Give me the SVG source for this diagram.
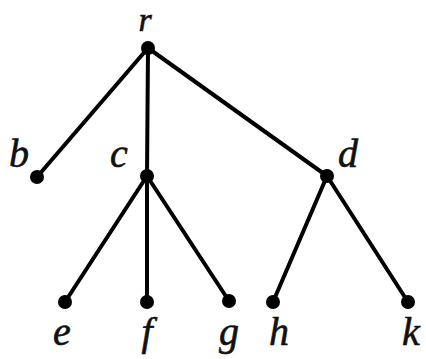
<svg xmlns="http://www.w3.org/2000/svg" width="426" height="359" viewBox="0 0 426 359">
<style>
.e{stroke:#000;stroke-width:4;fill:none;stroke-linecap:round}
.n{fill:#000}
.t{font-family:"Liberation Serif","Times New Roman",serif;font-style:italic;font-size:40px;fill:#111;text-anchor:middle;stroke:#111;stroke-width:0.6}
</style>
<rect width="426" height="359" fill="#fff"/>
<g id="edges">
<line class="e" x1="148" y1="48" x2="37" y2="177"/>
<line class="e" x1="148" y1="48" x2="147" y2="176"/>
<line class="e" x1="148" y1="48" x2="327" y2="176"/>
<line class="e" x1="147" y1="176" x2="65" y2="302"/>
<line class="e" x1="147" y1="176" x2="147" y2="302"/>
<line class="e" x1="147" y1="176" x2="229" y2="301"/>
<line class="e" x1="327" y1="176" x2="273" y2="302"/>
<line class="e" x1="327" y1="176" x2="408" y2="302"/>
</g>
<g id="r"><circle class="n" cx="148" cy="48" r="7"/><text class="t" x="145" y="31" style="font-size:34px">r</text></g>
<g id="b"><circle class="n" cx="37" cy="177" r="7"/><text class="t" x="19" y="167">b</text></g>
<g id="c"><circle class="n" cx="147" cy="176" r="7"/><text class="t" x="119" y="167">c</text></g>
<g id="d"><circle class="n" cx="327" cy="176" r="7"/><text class="t" x="348" y="167">d</text></g>
<g id="e"><circle class="n" cx="65" cy="302" r="7"/><text class="t" x="62" y="345">e</text></g>
<g id="f"><circle class="n" cx="147" cy="302" r="7"/><text class="t" x="147" y="345">f</text></g>
<g id="g"><circle class="n" cx="229" cy="301" r="7"/><text class="t" x="229" y="345">g</text></g>
<g id="h"><circle class="n" cx="273" cy="302" r="7"/><text class="t" x="279" y="345">h</text></g>
<g id="k"><circle class="n" cx="408" cy="302" r="7"/><text class="t" x="411" y="345">k</text></g>
</svg>
